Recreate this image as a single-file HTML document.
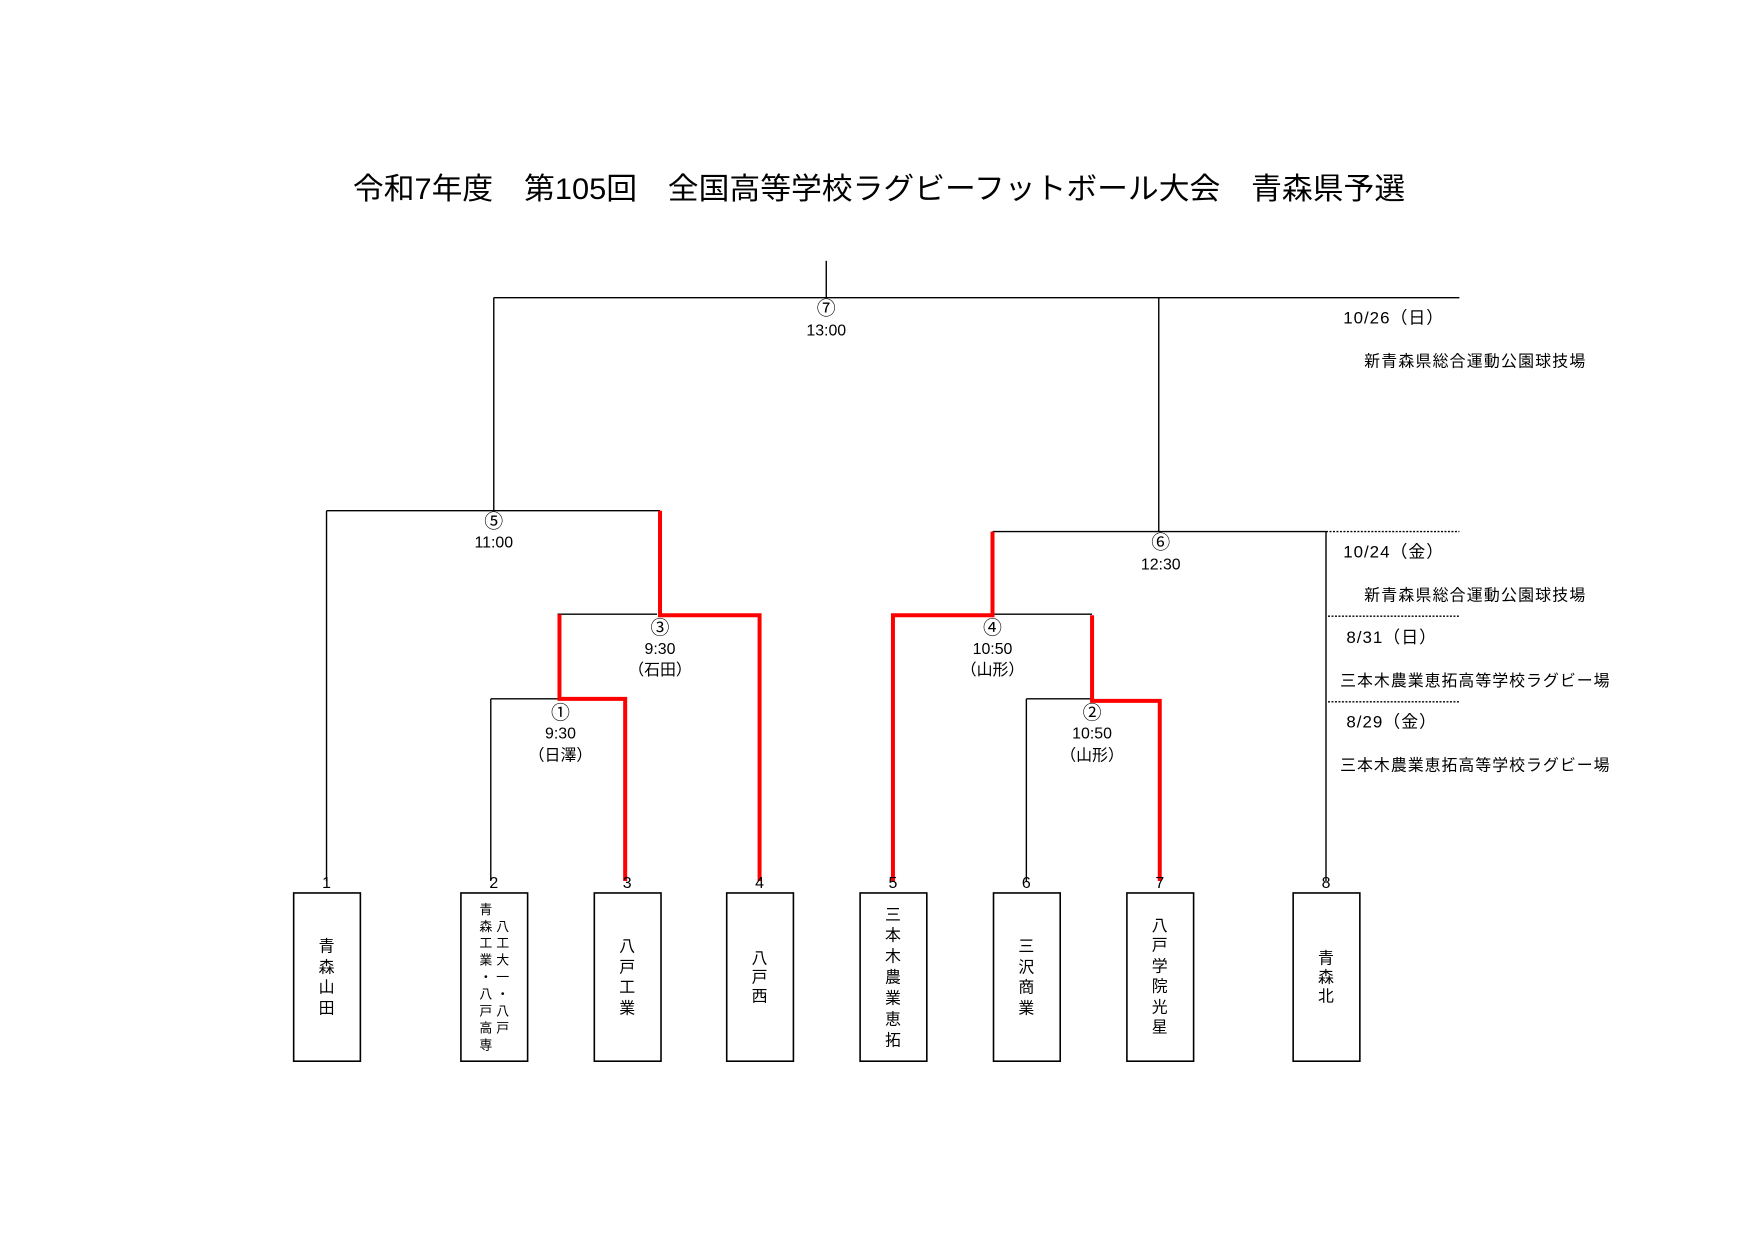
<!DOCTYPE html>
<html><head><meta charset="utf-8"><style>
html,body{margin:0;padding:0;background:#fff;}
svg{display:block}
text{font-family:"Liberation Sans","Noto Sans CJK JP",sans-serif;fill:#000}
</style></head><body>
<svg width="1754" height="1240" viewBox="0 0 1754 1240" xmlns="http://www.w3.org/2000/svg">
<g transform="scale(0.9955)">
<text x="883" y="200" font-size="30" text-anchor="middle" textLength="1057" lengthAdjust="spacingAndGlyphs">令和7年度　第105回　全国高等学校ラグビーフットボール大会　青森県予選</text>
<g stroke="#000" stroke-width="1.4" fill="none">
<line x1="830" y1="262" x2="830" y2="299"/>
<line x1="496" y1="299" x2="1466" y2="299"/>
<line x1="496" y1="299" x2="496" y2="513"/>
<line x1="1164" y1="299" x2="1164" y2="534"/>
<line x1="328" y1="513" x2="663" y2="513"/>
<line x1="328" y1="513" x2="328" y2="885"/>
<line x1="997" y1="534" x2="1332" y2="534"/>
<line x1="1332" y1="534" x2="1332" y2="885"/>
<line x1="560" y1="617" x2="660" y2="617"/>
<line x1="493" y1="702" x2="560" y2="702"/>
<line x1="493" y1="702" x2="493" y2="885"/>
<line x1="997" y1="617" x2="1097" y2="617"/>
<line x1="1031" y1="702" x2="1097" y2="702"/>
<line x1="1031" y1="702" x2="1031" y2="885"/>
</g>
<g stroke="#000" stroke-width="1.4" stroke-dasharray="2,1.5">
<line x1="1332" y1="534" x2="1466" y2="534"/>
<line x1="1334" y1="619" x2="1466" y2="619"/>
<line x1="1334" y1="705" x2="1466" y2="705"/>
</g>
<g stroke="#f00" stroke-width="4" fill="none" stroke-linejoin="miter">
<polyline points="663,513 663,618 763,618 763,885"/>
<polyline points="562,617 562,702 628,702 628,885"/>
<polyline points="997,534 997,618 897,618 897,885"/>
<polyline points="1097,618 1097,704 1165,704 1165,885"/>
</g>
<g font-size="19" text-anchor="middle">
<text x="830" y="316">⑦</text>
<text x="496" y="530">⑤</text>
<text x="1166" y="551">⑥</text>
<text x="663" y="637">③</text>
<text x="563" y="722">①</text>
<text x="997" y="637">④</text>
<text x="1097" y="722">②</text>
</g>
<g font-size="16" text-anchor="middle">
<text x="830" y="337">13:00</text>
<text x="496" y="550">11:00</text>
<text x="1166" y="572">12:30</text>
<text x="663" y="657">9:30</text><text x="663" y="678">（石田）</text>
<text x="563" y="742">9:30</text><text x="563" y="764">（日澤）</text>
<text x="997" y="657">10:50</text><text x="997" y="678">（山形）</text>
<text x="1097" y="742">10:50</text><text x="1097" y="764">（山形）</text>
<text x="1400" y="325" font-size="17" letter-spacing="1">10/26（日）</text>
<text x="1482" y="368" letter-spacing="1.2">新青森県総合運動公園球技場</text>
<text x="1400" y="560" font-size="17" letter-spacing="1">10/24（金）</text>
<text x="1482" y="603" letter-spacing="1.2">新青森県総合運動公園球技場</text>
<text x="1398" y="646" font-size="17" letter-spacing="1">8/31（日）</text>
<text x="1482" y="689" letter-spacing="1">三本木農業恵拓高等学校ラグビー場</text>
<text x="1398" y="731" font-size="17" letter-spacing="1">8/29（金）</text>
<text x="1482" y="774" letter-spacing="1">三本木農業恵拓高等学校ラグビー場</text>
<text x="328" y="892">1</text><text x="496" y="892">2</text><text x="630" y="892">3</text><text x="763" y="892">4</text>
<text x="897" y="892">5</text><text x="1031" y="892">6</text><text x="1165" y="892">7</text><text x="1332" y="892">8</text>
</g>
<g fill="none" stroke="#000" stroke-width="1.6">
<rect x="295" y="897" width="67" height="169"/>
<rect x="463" y="897" width="67" height="169"/>
<rect x="597" y="897" width="67" height="169"/>
<rect x="730" y="897" width="67" height="169"/>
<rect x="864" y="897" width="67" height="169"/>
<rect x="998" y="897" width="67" height="169"/>
<rect x="1132" y="897" width="67" height="169"/>
<rect x="1299" y="897" width="67" height="169"/>
</g>
<g font-size="16" text-anchor="middle">
<text x="328"><tspan x="328" y="956">青</tspan><tspan x="328" y="977">森</tspan><tspan x="328" y="997">山</tspan><tspan x="328" y="1018">田</tspan></text>
<text x="630"><tspan x="630" y="956">八</tspan><tspan x="630" y="977">戸</tspan><tspan x="630" y="997">工</tspan><tspan x="630" y="1018">業</tspan></text>
<text x="763"><tspan x="763" y="968">八</tspan><tspan x="763" y="987">戸</tspan><tspan x="763" y="1006">西</tspan></text>
<text x="897"><tspan x="897" y="924">三</tspan><tspan x="897" y="945">本</tspan><tspan x="897" y="966">木</tspan><tspan x="897" y="987">農</tspan><tspan x="897" y="1008">業</tspan><tspan x="897" y="1029">恵</tspan><tspan x="897" y="1050">拓</tspan></text>
<text x="1031"><tspan x="1031" y="956">三</tspan><tspan x="1031" y="977">沢</tspan><tspan x="1031" y="997">商</tspan><tspan x="1031" y="1018">業</tspan></text>
<text x="1165"><tspan x="1165" y="935">八</tspan><tspan x="1165" y="955">戸</tspan><tspan x="1165" y="976">学</tspan><tspan x="1165" y="996">院</tspan><tspan x="1165" y="1017">光</tspan><tspan x="1165" y="1037">星</tspan></text>
<text x="1332"><tspan x="1332" y="968">青</tspan><tspan x="1332" y="987">森</tspan><tspan x="1332" y="1006">北</tspan></text>
</g>
<g font-size="13" text-anchor="middle">
<text><tspan x="488" y="918">青</tspan><tspan x="488" y="935">森</tspan><tspan x="488" y="952">工</tspan><tspan x="488" y="969">業</tspan><tspan x="488" y="986">・</tspan><tspan x="488" y="1003">八</tspan><tspan x="488" y="1020">戸</tspan><tspan x="488" y="1037">高</tspan><tspan x="488" y="1054">専</tspan></text>
<text><tspan x="505" y="935">八</tspan><tspan x="505" y="952">工</tspan><tspan x="505" y="969">大</tspan><tspan x="505" y="986">一</tspan><tspan x="505" y="1003">・</tspan><tspan x="505" y="1020">八</tspan><tspan x="505" y="1037">戸</tspan></text>
</g>
</g>
</svg>
</body></html>
